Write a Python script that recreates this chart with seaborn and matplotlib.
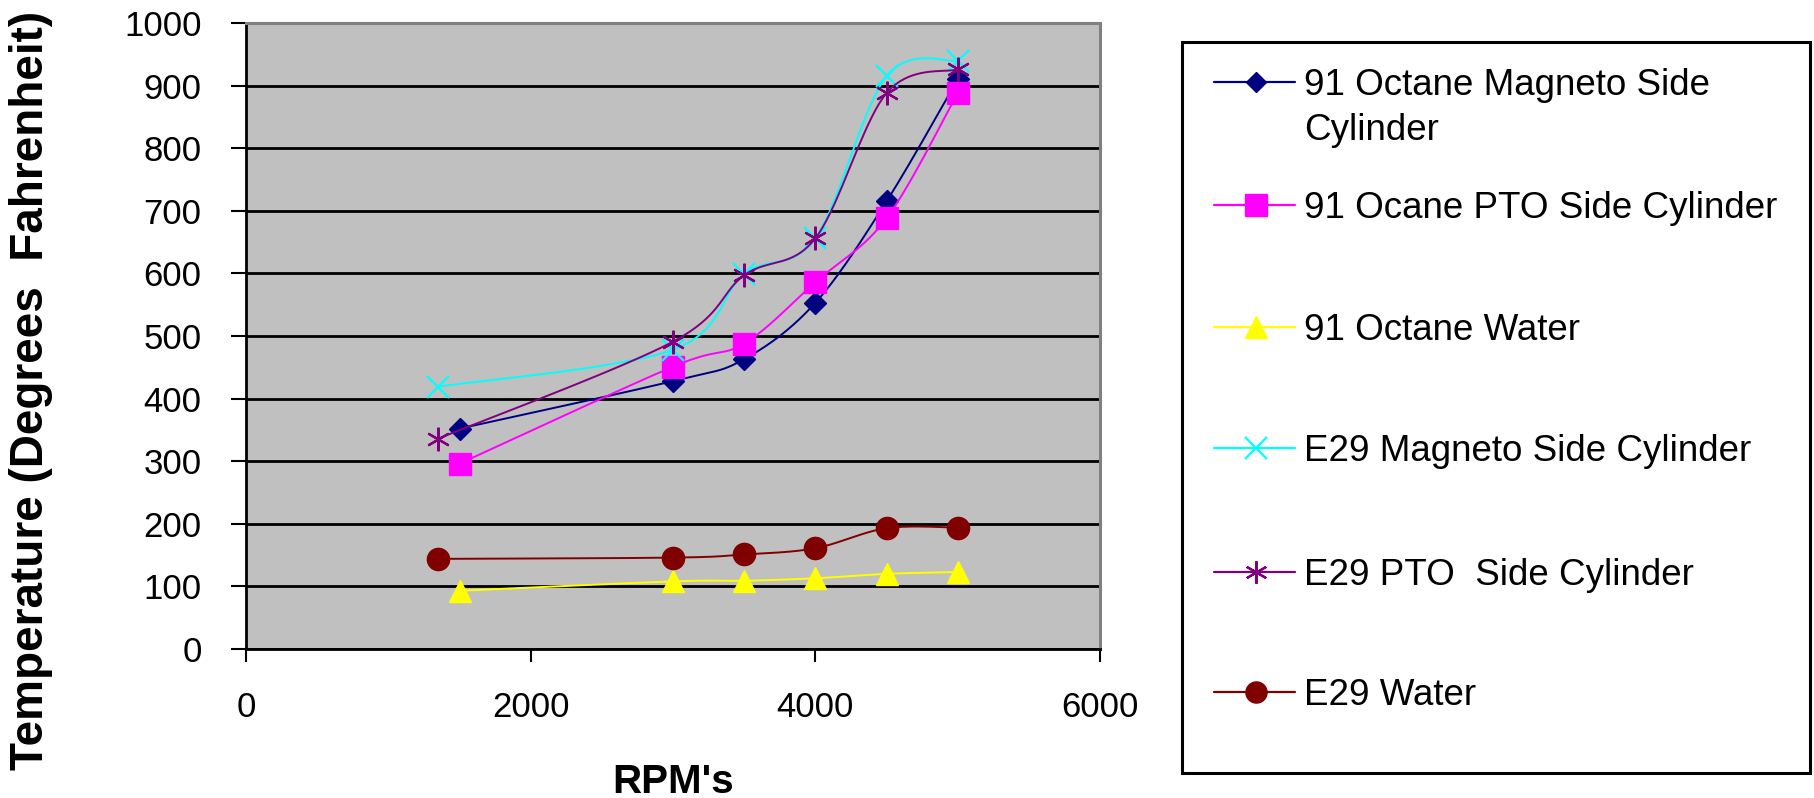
import numpy as np
import matplotlib
matplotlib.use("Agg")
import matplotlib.pyplot as plt
import seaborn as sns
from matplotlib import font_manager
from matplotlib.lines import Line2D
from matplotlib.patches import Rectangle

# data
rpm_91 = [1500, 3000, 3500, 4000, 4500, 5000]
rpm_e29 = [1350, 3000, 3500, 4000, 4500, 5000]
oct_magneto = [352, 428, 463, 553, 715, 910]
oct_pto = [296, 451, 488, 586, 688, 888]
oct_water = [93, 108, 109, 113, 120, 123]
e29_magneto = [419, 478, 599, 656, 915, 940]
e29_pto = [336, 491, 597, 656, 888, 926]
e29_water = [144, 146, 151, 161, 193, 194]

labels = [
    "91 Octane Magneto Side\nCylinder",
    "91 Ocane PTO Side Cylinder",
    "91 Octane Water",
    "E29 Magneto Side Cylinder",
    "E29 PTO  Side Cylinder",
    "E29 Water",
]
x_ticks = [0, 2000, 4000, 6000]
y_ticks = list(range(0, 1001, 100))

series = [
    (rpm_91, oct_magneto, "#000080", "D", 11),
    (rpm_91, oct_pto, "#FF00FF", "s", 16),
    (rpm_91, oct_water, "#FFFF00", "^", 16),
    (rpm_e29, e29_magneto, "#00FFFF", "x", 16),
    (rpm_e29, e29_pto, "#800080", (6, 2, 0), 17),
    (rpm_e29, e29_water, "#800000", "o", 16),
]


def smooth(x, y, n=40):
    # excel-like smoothed line (cubic bezier, catmull-rom tangents)
    x = np.asarray(x, float)
    y = np.asarray(y, float)
    t = np.linspace(0, 1, n)
    px, py = [], []
    for i in range(len(x) - 1):
        a = i - 1 if i > 0 else i
        b = i + 2 if i + 2 < len(x) else i + 1
        c1x = x[i] + (x[i + 1] - x[a]) / 6
        c1y = y[i] + (y[i + 1] - y[a]) / 6
        c2x = x[i + 1] - (x[b] - x[i]) / 6
        c2y = y[i + 1] - (y[b] - y[i]) / 6
        bx = (1-t)**3*x[i] + 3*(1-t)**2*t*c1x + 3*(1-t)*t**2*c2x + t**3*x[i+1]
        by = (1-t)**3*y[i] + 3*(1-t)**2*t*c1y + 3*(1-t)*t**2*c2y + t**3*y[i+1]
        px.extend(bx)
        py.extend(by)
    return np.array(px), np.array(py)


sns.set_style("white")
names = {f.name for f in font_manager.fontManager.ttflist}
narrow = "Liberation Sans Narrow" in names
plt.rcParams["font.family"] = ["Liberation Sans", "DejaVu Sans"]
plt.rcParams["text.color"] = "black"
plt.rcParams["xtick.color"] = "black"
plt.rcParams["ytick.color"] = "black"
tick_family = "Liberation Sans Narrow" if narrow else "Liberation Sans"
tick_size = 30 if narrow else 25

W, H = 1814, 798
fig = plt.figure(figsize=(W / 100, H / 100), dpi=100)
ax = fig.add_axes([246 / W, 1 - 649 / H, (1100 - 246) / W, (649 - 23) / H])
ax.set_facecolor("#C0C0C0")

for xs, ys, color, marker, ms in series:
    sx, sy = smooth(xs, ys)
    sns.lineplot(x=sx, y=sy, ax=ax, color=color, linewidth=1.4,
                 estimator=None, sort=False)
    ax.plot(xs, ys, linestyle="none", marker=marker, markersize=ms,
            color=color, markeredgecolor=color,
            markeredgewidth=1.6 if marker in ("x", (6, 2, 0)) else 1)

ax.set_xlim(0, 6000)
ax.set_ylim(0, 1000)
ax.set_xticks(x_ticks)
ax.set_yticks(y_ticks)
ax.yaxis.grid(True, color="black", linewidth=2)
ax.xaxis.grid(False)
ax.set_axisbelow(True)
ax.set_xlabel("")
ax.set_ylabel("")

for s in ["left", "bottom"]:
    ax.spines[s].set_color("black")
    ax.spines[s].set_linewidth(2)
for s in ["top", "right"]:
    ax.spines[s].set_color("#808080")
    ax.spines[s].set_linewidth(2.2)

ax.tick_params(axis="y", direction="out", length=11, width=1.5, pad=21,
               left=True, labelsize=tick_size, colors="black")
ax.tick_params(axis="x", direction="out", length=9, width=1.5, pad=21,
               bottom=True, labelsize=tick_size, colors="black")
for lab in ax.get_xticklabels() + ax.get_yticklabels():
    lab.set_family([tick_family, "DejaVu Sans"])

fig.text(31 / W, 1 - 390 / H, "Temperature (Degrees  Fahrenheit)",
         rotation=90, ha="center", va="center", fontsize=33,
         fontweight="bold", color="black")
fig.text(673 / W, 1 - 793 / H, "RPM's", ha="center", va="baseline",
         fontsize=29, fontweight="bold", color="black")

# legend box drawn by hand
fig.add_artist(Rectangle((1182 / W, 1 - 773 / H), (1810 - 1182) / W,
                         (773 - 42) / H, transform=fig.transFigure,
                         facecolor="white", edgecolor="black", linewidth=2.2))
rows = [82, 205, 327, 448, 572, 692]
for (xs, ys, color, marker, ms), label, ry in zip(series, labels, rows):
    yf = 1 - ry / H
    fig.add_artist(Line2D([1214 / W, 1295 / W], [yf, yf], color=color,
                          linewidth=1.6, transform=fig.transFigure))
    fig.add_artist(Line2D([1256 / W], [yf], color=color, marker=marker,
                          markersize=ms * 0.95, markeredgecolor=color,
                          linestyle="none", transform=fig.transFigure,
                          markeredgewidth=1.6 if marker in ("x", (6, 2, 0)) else 1))
    for k, line in enumerate(label.split("\n")):
        fig.text(1304 / W, 1 - (ry + 13 + 45 * k) / H, line,
                 ha="left", va="baseline", fontsize=26.5, color="black")

fig.savefig("out.png", dpi=100)
